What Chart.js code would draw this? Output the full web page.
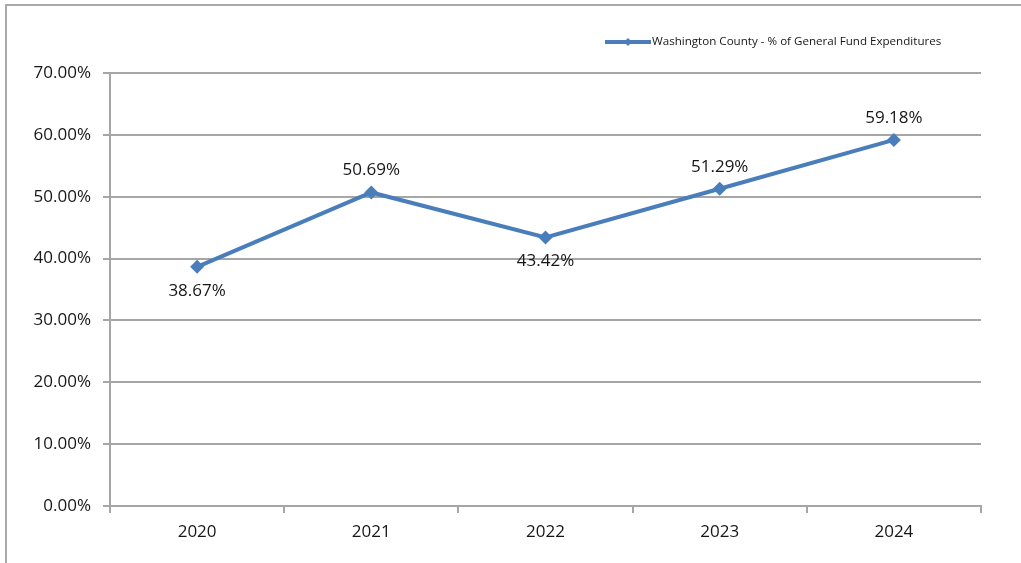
<!DOCTYPE html>
<html>
<head>
<meta charset="utf-8">
<script src="https://cdn.jsdelivr.net/npm/chart.js@4/dist/chart.umd.min.js"></script>
<style>
  html, body { margin: 0; padding: 0; background: #fff; }
  #wrap { position: relative; width: 1021px; height: 563px; overflow: hidden; }
  #frame { position: absolute; left: 5px; top: 4px; right: -10px; bottom: -10px;
           border-top: 2px solid #a9a9a9; border-left: 2px solid #a9a9a9; pointer-events: none; }
  canvas { position: absolute; left: 0; top: 0; }
</style>
</head>
<body>
<div id="wrap">
  <canvas id="c" width="1021" height="563"></canvas>
  <div id="frame"></div>
</div>
<script>
const categories = ['2020', '2021', '2022', '2023', '2024'];
const seriesName = 'Washington County - % of General Fund Expenditures';
const seriesValues = [38.67, 50.69, 43.42, 51.29, 59.18];
const yTicks = [0, 10, 20, 30, 40, 50, 60, 70];
const labelSides = ['below', 'above', 'below', 'above', 'above'];

const FONT = '"Open Sans", "Liberation Sans", sans-serif';
const BLUE = '#4a7ebb';
const GRID = '#a6a6a6';
const TEXT = '#161616';

const dataLabels = {
  id: 'dataLabels',
  afterDatasetsDraw(chart) {
    const ctx = chart.ctx;
    const meta = chart.getDatasetMeta(0);
    ctx.save();
    ctx.font = '17px ' + FONT;
    ctx.fillStyle = TEXT;
    ctx.textAlign = 'center';
    ctx.textBaseline = 'middle';
    meta.data.forEach((pt, i) => {
      const v = chart.data.datasets[0].data[i];
      const off = labelSides[i] === 'above' ? -22 : 24;
      ctx.fillText(v.toFixed(2) + '%', pt.x, pt.y + off);
    });
    ctx.restore();
  }
};

const customLegend = {
  id: 'customLegend',
  afterDraw(chart) {
    const ctx = chart.ctx;
    const ds = chart.data.datasets[0];
    ctx.save();
    const y = 42, x0 = 605, x1 = 651;
    ctx.strokeStyle = ds.borderColor;
    ctx.lineWidth = 4;
    ctx.beginPath(); ctx.moveTo(x0, y); ctx.lineTo(x1, y); ctx.stroke();
    ctx.fillStyle = ds.borderColor;
    const cx = (x0 + x1) / 2, r = 4;
    ctx.beginPath();
    ctx.moveTo(cx, y - r); ctx.lineTo(cx + r, y); ctx.lineTo(cx, y + r); ctx.lineTo(cx - r, y);
    ctx.closePath(); ctx.fill();
    ctx.font = '11.6px ' + FONT;
    ctx.fillStyle = TEXT;
    ctx.textAlign = 'left';
    ctx.textBaseline = 'middle';
    ctx.fillText(ds.label, x1 + 1, y);
    ctx.restore();
  }
};

new Chart(document.getElementById('c'), {
  type: 'line',
  data: {
    labels: categories,
    datasets: [{
      label: seriesName,
      data: seriesValues,
      borderColor: BLUE,
      backgroundColor: BLUE,
      borderWidth: 4,
      pointStyle: 'rectRot',
      pointRadius: 7,
      pointHoverRadius: 7,
      pointBorderWidth: 0,
      tension: 0,
      fill: false
    }]
  },
  options: {
    responsive: false,
    animation: false,
    events: [],
    layout: { padding: { left: 0, right: 40, top: 73, bottom: 0 } },
    plugins: { legend: { display: false }, tooltip: { enabled: false } },
    scales: {
      x: {
        offset: true,
        grid: { offset: true, drawOnChartArea: false, drawTicks: true, tickLength: 7, color: GRID, lineWidth: 2 },
        border: { display: true, color: GRID, width: 2 },
        ticks: { color: TEXT, font: { family: FONT, size: 17 }, padding: 9, maxRotation: 0 },
        afterFit(scale) { scale.height = 57; }
      },
      y: {
        min: yTicks[0],
        max: yTicks[yTicks.length - 1],
        afterBuildTicks(scale) { scale.ticks = yTicks.map(v => ({ value: v })); },
        grid: { color: GRID, lineWidth: 2, tickLength: 7, drawTicks: true },
        border: { display: true, color: GRID, width: 2 },
        ticks: { color: TEXT, font: { family: FONT, size: 17 }, padding: 12,
                 callback: v => Number(v).toFixed(2) + '%' },
        afterFit(scale) { scale.width = 110; }
      }
    }
  },
  plugins: [dataLabels, customLegend]
});
</script>
</body>
</html>
